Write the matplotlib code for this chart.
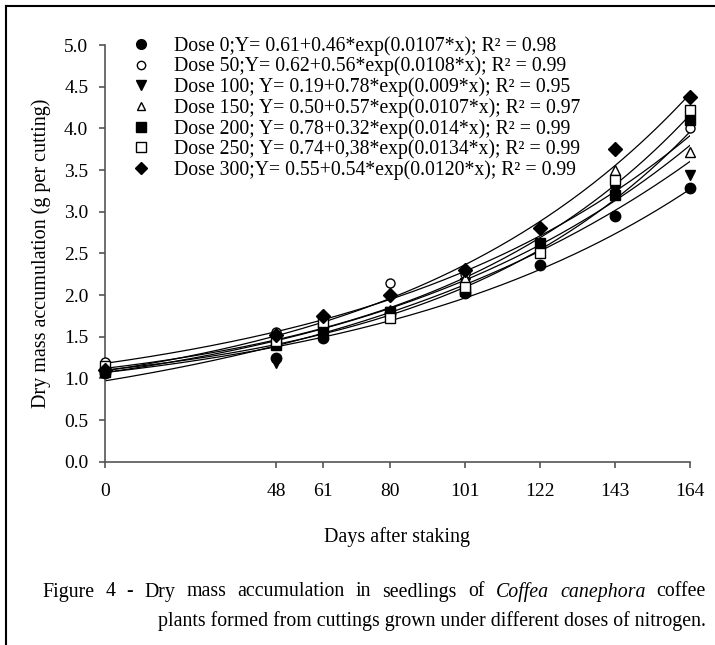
import numpy as np
import matplotlib
matplotlib.use('Agg')
import matplotlib.pyplot as plt
from matplotlib.lines import Line2D

plt.rcParams['font.family'] = ['Liberation Serif', 'DejaVu Serif']

# days after staking
days = [0, 48, 61, 80, 101, 122, 143, 164]

# measured dry mass (g per cutting) per nitrogen dose
dose_0 = [1.07, 1.25, 1.48, 1.78, 2.03, 2.36, 2.95, 3.28]
dose_50 = [1.20, 1.56, 1.73, 2.15, 2.25, 2.62, 3.40, 4.00]
dose_100 = [1.10, 1.18, 1.55, 1.80, 2.15, 2.60, 3.25, 3.44]
dose_150 = [1.12, 1.50, 1.62, 1.82, 2.20, 2.52, 3.50, 3.72]
dose_200 = [1.08, 1.40, 1.58, 1.80, 2.05, 2.62, 3.20, 4.10]
dose_250 = [1.15, 1.45, 1.68, 1.72, 2.10, 2.50, 3.38, 4.22]
dose_300 = [1.10, 1.52, 1.75, 2.00, 2.30, 2.80, 3.75, 4.38]

# fitted model Y = a + b*exp(c*x), coefficients from the legend
coef_a = [0.61, 0.62, 0.19, 0.50, 0.78, 0.74, 0.55]
coef_b = [0.46, 0.56, 0.78, 0.57, 0.32, 0.38, 0.54]
coef_c = [0.0107, 0.0108, 0.009, 0.0107, 0.014, 0.0134, 0.0120]

labels = [
    'Dose 0;Y= 0.61+0.46*exp(0.0107*x); R² = 0.98',
    'Dose 50;Y= 0.62+0.56*exp(0.0108*x); R² = 0.99',
    'Dose 100; Y= 0.19+0.78*exp(0.009*x); R² = 0.95',
    'Dose 150; Y= 0.50+0.57*exp(0.0107*x); R² = 0.97',
    'Dose 200; Y= 0.78+0.32*exp(0.014*x); R² = 0.99',
    'Dose 250; Y= 0.74+0,38*exp(0.0134*x); R² = 0.99',
    'Dose 300;Y= 0.55+0.54*exp(0.0120*x); R² = 0.99',
]

series = [dose_0, dose_50, dose_100, dose_150, dose_200, dose_250, dose_300]
markers = ['o', 'o', 'v', '^', 's', 's', 'D']
filled = [True, False, True, False, True, False, True]
sizes = [7.5, 6.5, 7.5, 6.5, 7, 7, 7]

W, H = 715, 645
fig = plt.figure(figsize=(W / 100, H / 100), dpi=100)
ax = fig.add_axes([105 / W, 1 - 461.7 / H, 585 / W, 416.7 / H])

xx = np.linspace(0, 164, 200)
for a, b, c in zip(coef_a, coef_b, coef_c):
    ax.plot(xx, a + b * np.exp(c * xx), color='black', lw=0.9, zorder=2)

handles = []
for vals, m, f, s, lab in zip(series, markers, filled, sizes, labels):
    fc = 'black' if f else 'white'
    ax.plot(days, vals, linestyle='none', marker=m, ms=s, mfc=fc, mec='black',
            mew=1.0, clip_on=False, zorder=3)
    handles.append(Line2D([], [], linestyle='none', marker=m, ms=s - 0.5, mfc=fc,
                          mec='black', mew=1.0, label=lab))

ax.set_xlim(0, 164)
ax.set_ylim(0, 5)
ax.set_xticks(days)
ax.set_xticklabels([str(d) for d in days])
ax.set_yticks(np.arange(0, 5.01, 0.5))
ax.set_yticklabels(['%.1f' % v for v in np.arange(0, 5.01, 0.5)])
for side in ['top', 'right']:
    ax.spines[side].set_visible(False)
for side in ['left', 'bottom']:
    ax.spines[side].set_color('#555555')
    ax.spines[side].set_linewidth(1.2)
ax.tick_params(axis='both', direction='out', length=4, width=1.2, color='#555555',
               labelsize=14)
ax.tick_params(axis='x', pad=11)
ax.tick_params(axis='y', pad=8)

ax.set_xlabel('Days after staking', fontsize=14.5, labelpad=20)
ax.set_ylabel('Dry mass accumulation (g per cutting)', fontsize=14.5, labelpad=9)

leg = ax.legend(handles=handles, loc='upper left', bbox_to_anchor=(131 / W, 1 - 36 / H),
                bbox_transform=fig.transFigure, frameon=False, fontsize=14.2,
                handlelength=1.0, handletextpad=1.2, labelspacing=0.05,
                borderpad=0, borderaxespad=0)

# caption, first line justified word by word
fs = 14.3
y1 = 1 - 592 / H
y2 = 1 - 621 / H
x_left, x_right = 42, 706
words = ['Figure', '4', '-', 'Dry', 'mass', 'accumulation', 'in', 'seedlings', 'of',
         'Coffea', 'canephora', 'coffee']
italic = {'Coffea', 'canephora'}
r = fig.canvas.get_renderer()
texts = []
for w in words:
    t = fig.text(0, y1, w, fontsize=fs, va='center', ha='left',
                 style='italic' if w in italic else 'normal')
    texts.append(t)
widths = [t.get_window_extent(r).width for t in texts]
gap = (x_right - x_left - sum(widths)) / (len(words) - 1)
x = x_left
for t, w in zip(texts, widths):
    t.set_x(x / W)
    x += w + gap
fig.text(x_right / W, y2, 'plants formed from cuttings grown under different doses of nitrogen.',
         fontsize=fs, va='center', ha='right')

# page frame lines
fig.add_artist(Line2D([6 / W, 1], [1 - 6 / H, 1 - 6 / H], color='black', lw=1.5,
                      transform=fig.transFigure))
fig.add_artist(Line2D([6 / W, 6 / W], [0, 1 - 6 / H], color='black', lw=1.5,
                      transform=fig.transFigure))

fig.savefig('out.png', dpi=100)
